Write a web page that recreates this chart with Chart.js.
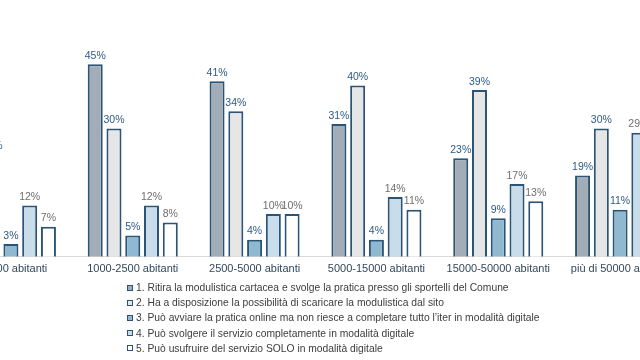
<!DOCTYPE html>
<html>
<head>
<meta charset="utf-8">
<script src="https://cdn.jsdelivr.net/npm/chart.js@4"></script>
<style>
  html, body { margin: 0; padding: 0; background: #fff; overflow: hidden; }
  body { width: 640px; height: 360px; position: relative; }
  #wrap { position: absolute; left: -50px; top: 0; width: 731px; height: 282px; }
  #legend { position: absolute; left: 127px; top: 280px; margin: 0; padding: 0; list-style: none;
    font-family: "Liberation Sans", Arial, sans-serif; font-size: 10.3px; color: #3c3c3c; }
  #legend li { height: 15.2px; line-height: 15.2px; display: flex; align-items: center; white-space: nowrap; }
  #legend span.box { width: 4px; height: 4px; border: 1.7px solid #2c5477; margin-right: 3px; display: inline-block; }
</style>
</head>
<body>
<div id="wrap"><canvas id="chart"></canvas></div>
<ul id="legend"></ul>
<script>
const categories = ['0-1000 abitanti', '1000-2500 abitanti', '2500-5000 abitanti',
  '5000-15000 abitanti', '15000-50000 abitanti', 'più di 50000 abitanti'];

const seriesNames = [
  '1. Ritira la modulistica cartacea e svolge la pratica presso gli sportelli del Comune',
  '2. Ha a disposizione la possibilità di scaricare la modulistica dal sito',
  '3. Può avviare la pratica online ma non riesce a completare tutto l\u2019iter in modalità digitale',
  '4. Può svolgere il servizio completamente in modalità digitale',
  '5. Può usufruire del servizio SOLO in modalità digitale'
];

const serie1 = [54, 45, 41, 31, 23, 19];
const serie2 = [24, 30, 34, 40, 39, 30];
const serie3 = [3, 5, 4, 4, 9, 11];
const serie4 = [12, 12, 10, 14, 17, 29];
const serie5 = [7, 8, 10, 11, 13, 11];

const fills = ['#a2adb8', '#e6e6e6', '#8fb9d1', '#c9dcea', '#ffffff'];
const labelColors = ['#2e5a84', '#2e5a84', '#2e5a84', '#6e6e6e', '#6e6e6e'];
const navy = '#2c5477';

const valueLabels = {
  id: 'valueLabels',
  afterDatasetsDraw(chart) {
    const ctx = chart.ctx;
    ctx.save();
    ctx.font = '10.5px "Liberation Sans", Arial, sans-serif';
    ctx.textAlign = 'center';
    ctx.textBaseline = 'bottom';
    chart.data.datasets.forEach((ds, i) => {
      const meta = chart.getDatasetMeta(i);
      ctx.fillStyle = labelColors[i];
      meta.data.forEach((bar, j) => {
        ctx.fillText(ds.data[j] + '%', bar.x, bar.y - 3);
      });
    });
    ctx.restore();
  }
};

const allSeries = [serie1, serie2, serie3, serie4, serie5];

const chart = new Chart(document.getElementById('chart'), {
  type: 'bar',
  data: {
    labels: categories,
    datasets: allSeries.map((d, i) => ({
      label: seriesNames[i],
      data: d,
      backgroundColor: fills[i],
      borderColor: navy,
      borderWidth: 2,
      borderSkipped: 'bottom',
      categoryPercentage: 0.77,
      barPercentage: 0.8
    }))
  },
  options: {
    responsive: true,
    maintainAspectRatio: false,
    animation: false,
    layout: { padding: 0 },
    plugins: {
      legend: { display: false },
      tooltip: { enabled: false }
    },
    scales: {
      x: {
        grid: { display: false, drawTicks: false },
        border: { display: true, color: '#d9d9d9', width: 1 },
        ticks: {
          padding: 6,
          color: '#33475b',
          font: { family: '"Liberation Sans", Arial, sans-serif', size: 11 },
          maxRotation: 0,
          autoSkip: false
        }
      },
      y: {
        display: false,
        min: 0,
        max: 60
      }
    }
  },
  plugins: [valueLabels]
});

// legenda in HTML, costruita dai dataset
const ul = document.getElementById('legend');
chart.data.datasets.forEach((ds, i) => {
  const li = document.createElement('li');
  const box = document.createElement('span');
  box.className = 'box';
  box.style.background = ds.backgroundColor;
  li.appendChild(box);
  li.appendChild(document.createTextNode(ds.label));
  ul.appendChild(li);
});
</script>
</body>
</html>
